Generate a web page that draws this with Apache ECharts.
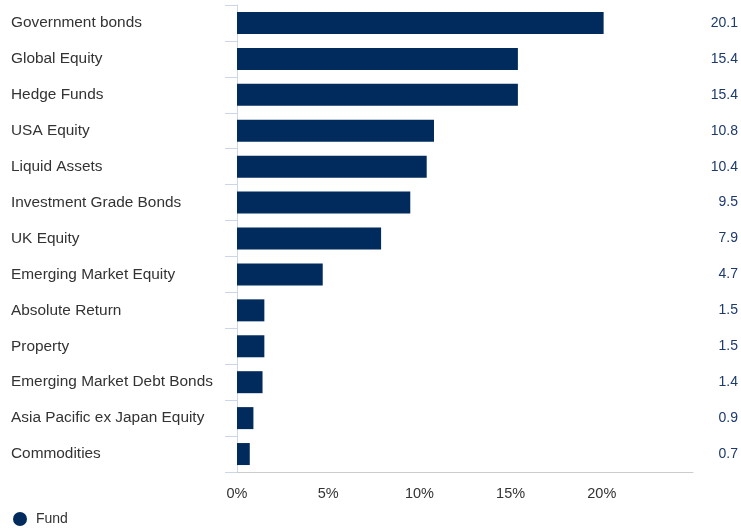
<!DOCTYPE html>
<html>
<head>
<meta charset="utf-8">
<script src="https://cdn.jsdelivr.net/npm/echarts@6/dist/echarts.min.js"></script>
<style>
  html, body { margin: 0; padding: 0; background: #fff; }
  #chart { width: 741px; height: 528px; }
</style>
</head>
<body>
<div id="chart"></div>
<script>
// data
var categories = ['Government bonds', 'Global Equity', 'Hedge Funds', 'USA Equity', 'Liquid Assets',
  'Investment Grade Bonds', 'UK Equity', 'Emerging Market Equity', 'Absolute Return', 'Property',
  'Emerging Market Debt Bonds', 'Asia Pacific ex Japan Equity', 'Commodities'];
var fund = [20.1, 15.4, 15.4, 10.8, 10.4, 9.5, 7.9, 4.7, 1.5, 1.5, 1.4, 0.9, 0.7];
var xTicks = [0, 5, 10, 15, 20];

var navy = '#002b5c';
var font = 'Liberation Sans, Arial, sans-serif';

const getOption = () => {
  return {
    animation: false,
    textStyle: { fontFamily: font },
    grid: { left: 237, right: 46, top: 5, bottom: 56 },
    legend: {
      left: 8, top: 507,
      icon: 'circle', itemWidth: 14, itemHeight: 14, itemGap: 6,
      textStyle: { fontSize: 14, color: '#333', fontFamily: font, padding: [0, 0, 0, 4] },
      data: ['Fund']
    },
    xAxis: {
      type: 'value',
      min: 0, max: 25, interval: 5,
      splitLine: { show: false },
      axisTick: { show: false },
      axisLine: { show: true, lineStyle: { color: '#ccc' } },
      axisLabel: {
        fontSize: 14.5, color: '#333', margin: 14,
        formatter: function (v) { return xTicks.indexOf(v) >= 0 ? v + '%' : ''; }
      }
    },
    yAxis: [
      {
        type: 'category',
        data: categories,
        inverse: true,
        axisLine: { show: true, lineStyle: { color: '#ccd6eb' } },
        axisTick: { show: true, length: 12, lineStyle: { color: '#ccd6eb' } },
        axisLabel: { align: 'left', margin: 226, fontSize: 15.4, color: '#333' }
      },
      {
        type: 'category',
        position: 'right',
        data: fund.map(function (v) { return v.toFixed(1); }),
        inverse: true,
        axisLine: { show: false },
        axisTick: { show: false },
        axisLabel: { align: 'right', margin: 45, fontSize: 14, color: '#1c3a6b' }
      }
    ],
    series: [
      {
        name: 'Fund',
        type: 'bar',
        data: fund,
        barWidth: 22,
        itemStyle: { color: navy }
      }
    ]
  };
};

const chart = echarts.init(document.getElementById('chart'));
chart.setOption(getOption());
</script>
</body>
</html>
